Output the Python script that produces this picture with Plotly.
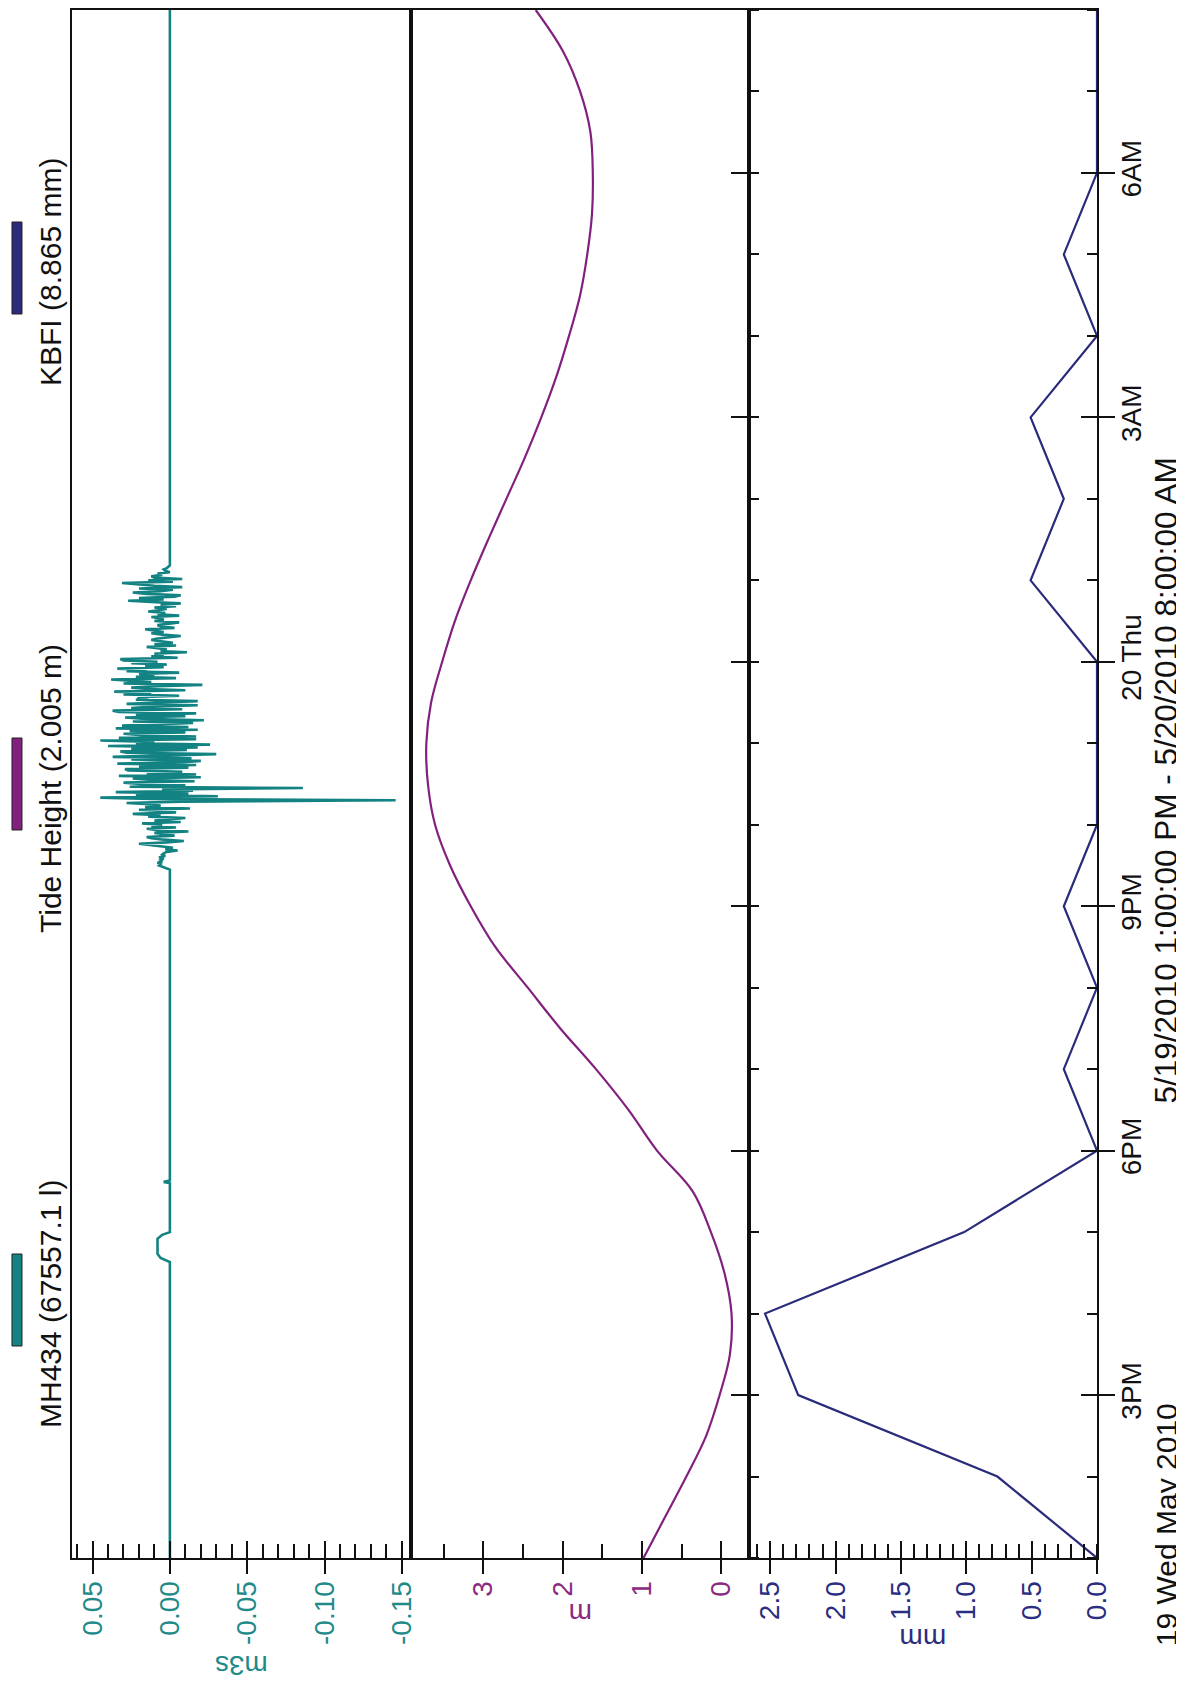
import plotly.graph_objects as go
import pandas as pd

# ---------------- data ----------------
# quiet parts of the MH434 flow record (m3/s)
quiet_times = [
    "2010-05-19 13:00", "2010-05-19 16:38", "2010-05-19 16:41", "2010-05-19 16:44", "2010-05-19 16:55",
    "2010-05-19 16:58", "2010-05-19 17:00", "2010-05-19 17:36", "2010-05-19 17:37", "2010-05-19 17:38",
]
quiet_values = [0.0, 0.0, 0.006, 0.008, 0.008, 0.005, 0.0, 0.0, 0.004, 0.0]

# active burst, one reading per minute from 21:27 to 01:11
burst_start = "2010-05-19 21:27"
burst_values = [
    0.0, 0.002, 0.005, 0.007, 0.006, 0.008, 0.005, 0.006, 0.004, 0.007, 0.003, 0.005, 0.004, 0.002, -0.005,
    0.003, -0.002, 0.006, 0.010, 0.020, 0.002, -0.009, 0.004, 0.012, 0.015, -0.003, 0.003, 0.010, -0.012, 0.008,
    0.015, -0.004, 0.012, 0.005, 0.018, -0.007, 0.010, -0.002, -0.010, 0.014, 0.006, 0.024, -0.004, 0.002, 0.020,
    -0.013, 0.016, 0.006, 0.010, 0.028, -0.008, -0.146, 0.012, 0.045, -0.031, 0.022, -0.012, 0.035, -0.015, 0.005,
    -0.086, 0.026, -0.010, 0.019, 0.030, -0.016, 0.012, 0.024, -0.020, 0.033, -0.017, 0.015, -0.008, 0.027, 0.029,
    -0.012, 0.020, -0.017, 0.034, -0.009, -0.020, 0.025, -0.014, 0.037, 0.010, -0.030, 0.028, 0.032, -0.011, 0.025,
    -0.018, 0.040, -0.026, 0.022, 0.010, 0.045, -0.017, 0.033, -0.017, 0.018, 0.030, -0.010, 0.026, -0.018, 0.035,
    -0.012, 0.031, 0.012, -0.015, 0.024, -0.022, 0.018, 0.029, -0.010, 0.022, -0.017, 0.033, 0.037, -0.008, 0.025,
    0.010, -0.018, 0.028, 0.005, -0.018, 0.022, 0.014, 0.021, -0.006, 0.030, 0.012, 0.036, -0.010, 0.014, 0.025,
    0.008, -0.021, 0.030, 0.012, 0.026, 0.038, -0.004, 0.022, 0.010, 0.020, -0.006, 0.028, 0.015, 0.034, 0.004,
    0.016, 0.002, 0.025, 0.008, 0.030, 0.032, -0.005, 0.012, 0.004, 0.010, -0.011, 0.006, 0.002, 0.008, 0.015,
    -0.004, 0.010, -0.002, 0.006, 0.012, 0.009, 0.002, -0.007, 0.005, 0.012, 0.004, 0.010, 0.016, -0.003, 0.006,
    0.008, 0.002, -0.006, 0.010, 0.004, 0.006, 0.012, -0.006, 0.008, 0.003, 0.014, 0.007, 0.002, 0.010, -0.004,
    0.006, -0.007, 0.012, 0.027, 0.004, 0.020, -0.003, -0.007, 0.015, 0.024, 0.006, -0.002, 0.020, -0.008, 0.010,
    0.022, 0.031, -0.002, 0.014, -0.008, 0.010, 0.012, 0.005, 0.008, 0.0, 0.003, 0.004, 0.002, 0.001, 0.0,
]
end_time = "2010-05-20 08:00"
end_value = 0.0

tide_times = pd.date_range("2010-05-19 13:00", "2010-05-20 08:00", freq="30min")
tide_values = [
    0.98, 0.71, 0.44, 0.19, 0.02, -0.11, -0.13, -0.04, 0.13, 0.36,
    0.81, 1.17, 1.58, 2.03, 2.44, 2.85, 3.16, 3.42, 3.61, 3.70,
    3.72, 3.66, 3.52, 3.36, 3.16, 2.94, 2.71, 2.48, 2.27, 2.08,
    1.92, 1.78, 1.69, 1.63, 1.62, 1.65, 1.78, 2.00, 2.34,
]

rain_times = pd.date_range("2010-05-19 13:00", "2010-05-20 08:00", freq="60min")
rain_values = [
    0.0, 0.762, 2.286, 2.54, 1.016, 0.0, 0.254, 0.0, 0.254, 0.0,
    0.0, 0.0, 0.508, 0.254, 0.508, 0.0, 0.254, 0.0, 0.0, 0.0,
]

flow_tickvals = [0.05, 0.0, -0.05, -0.10, -0.15]
flow_ticktext = ["0.05", "0.00", "-0.05", "-0.10", "-0.15"]
tide_tickvals = [3, 2, 1, 0]
tide_ticktext = ["3", "2", "1", "0"]
rain_tickvals = [2.5, 2.0, 1.5, 1.0, 0.5, 0.0]
rain_ticktext = ["2.5", "2.0", "1.5", "1.0", "0.5", "0.0"]
time_tickvals = ["2010-05-19 15:00", "2010-05-19 18:00", "2010-05-19 21:00",
                 "2010-05-20 00:00", "2010-05-20 03:00", "2010-05-20 06:00"]
time_ticktext = ["3PM", "6PM", "9PM", "20 Thu", "3AM", "6AM"]
time_range = ["2010-05-19 13:00", "2010-05-20 08:00"]

legend_labels = ["MH434 (67557.1 l)", "Tide Height (2.005 m)", "KBFI (8.865 mm)"]
axis_titles = ["m3s", "m", "mm"]
range_title = "5/19/2010 1:00:00 PM - 5/20/2010 8:00:00 AM"
date_label = "19 Wed May 2010"

# assemble flow series
burst_times = pd.date_range(burst_start, periods=len(burst_values), freq="1min")
flow_times = list(pd.to_datetime(quiet_times)) + list(burst_times) + [pd.Timestamp(end_time)]
flow_values = quiet_values + burst_values + [end_value]

# ---------------- style ----------------
TEAL = "#138282"
PURPLE = "#82207f"
NAVY = "#2a2b7a"
TEAL_T = "#1f8a88"
PURPLE_T = "#8a2a80"
NAVY_T = "#2a2d80"
FONT = "Liberation Sans, Arial, sans-serif"
FS = 28

# page has an 8px body margin: figure is placed at (8, 8)
OFF = 8
W, H = 1184 - OFF, 1690 - OFF
PL, PR, PT, PB = 72, 1096.7, 10, 1557.7          # plot area in page pixels
ML, MT = PL - OFF, PT - OFF
MR, MB = W - (PR - OFF), H - (PB - OFF)
PW, PH = PR - PL, PB - PT


def px_x(px):
    return (px - PL) / PW


def px_y(py):
    return (PB - py) / PH


d1 = px_x(410.7)
d2 = px_x(749.0)
domains = [[0, d1], [d1, d2], [d2, 1]]

fig = go.Figure()
fig.add_trace(go.Scatter(x=flow_values, y=flow_times, xaxis="x", yaxis="y", mode="lines",
                         line=dict(color=TEAL, width=2.6), showlegend=False))
fig.add_trace(go.Scatter(x=tide_values, y=tide_times, xaxis="x2", yaxis="y", mode="lines",
                         line=dict(color=PURPLE, width=2.2, shape="spline"), showlegend=False))
fig.add_trace(go.Scatter(x=rain_values, y=rain_times, xaxis="x3", yaxis="y", mode="lines",
                         line=dict(color=NAVY, width=2.2), showlegend=False))
# empty traces so overlay tick axes get drawn
for xa in ["x4", "x5", "x6"]:
    fig.add_trace(go.Scatter(x=[], y=[], xaxis=xa, yaxis="y", showlegend=False))
fig.add_trace(go.Scatter(x=[], y=[], xaxis="x3", yaxis="y2", showlegend=False))

axis_specs = [
    (flow_tickvals, flow_ticktext, [0.0633, -0.1558], 0.01, TEAL_T),
    (tide_tickvals, tide_ticktext, [3.916, -0.353], 0.5, PURPLE_T),
    (rain_tickvals, rain_ticktext, [2.661, 0.0], 0.1, NAVY_T),
]

layout_axes = {}
for i, (tv, tt, rng, mstep, col) in enumerate(axis_specs):
    name = "xaxis" if i == 0 else f"xaxis{i + 1}"
    layout_axes[name] = dict(
        domain=domains[i], range=rng, anchor="y", side="bottom",
        tickvals=tv, ticktext=tt, ticks="outside", ticklen=14, tickwidth=2, tickcolor="#111",
        tickangle=-90, tickfont=dict(family=FONT, size=FS, color=col), ticklabelstandoff=-4,
        minor=dict(ticks="inside", ticklen=14, tickwidth=2, tickcolor="#111", dtick=mstep, tick0=0,
                   showgrid=False),
        showline=True, linecolor="#111", linewidth=2, mirror=True,
        showgrid=False, zeroline=False, fixedrange=True,
    )
    layout_axes[f"xaxis{i + 4}"] = dict(
        overlaying="x" if i == 0 else f"x{i + 1}", range=rng, anchor="y", side="bottom",
        tickvals=tv, ticks="inside", ticklen=17, tickwidth=2, tickcolor="#111",
        showticklabels=False, showline=False, showgrid=False, zeroline=False,
    )

layout_axes["yaxis"] = dict(
    type="date", range=time_range, anchor="x3", side="right",
    tickvals=time_tickvals, ticktext=time_ticktext, ticks="outside", ticklen=16, tickwidth=2,
    tickcolor="#111", tickangle=-90, tickfont=dict(family=FONT, size=FS, color="#111"),
    ticklabelstandoff=-8,
    minor=dict(ticks="inside", ticklen=10, tickwidth=2, tickcolor="#111", dtick=3600000,
               tick0="2010-05-19 00:00", showgrid=False),
    showline=True, linecolor="#111", linewidth=2, mirror="all",
    showgrid=False, zeroline=False,
)
layout_axes["yaxis2"] = dict(
    type="date", range=time_range, anchor="x3", side="right", overlaying="y",
    tickvals=time_tickvals, ticks="inside", ticklen=16, tickwidth=2, tickcolor="#111",
    showticklabels=False, showline=False, showgrid=False, zeroline=False,
)

annotations = []
title_cols = [TEAL_T, PURPLE_T, NAVY_T]
title_py = [1665, 1613, 1638]
for i, t in enumerate(axis_titles):
    annotations.append(dict(
        text=t, xref="paper", yref="paper", x=(domains[i][0] + domains[i][1]) / 2, y=px_y(title_py[i]),
        xanchor="center", yanchor="middle", textangle=180, showarrow=False,
        font=dict(family=FONT, size=FS, color=title_cols[i]),
    ))
annotations.append(dict(
    text=range_title, xref="paper", yref="paper", x=px_x(1166), y=px_y(780),
    xanchor="center", yanchor="middle", textangle=-90, showarrow=False,
    font=dict(family=FONT, size=31.5, color="#111"),
))
annotations.append(dict(
    text=date_label, xref="paper", yref="paper", x=px_x(1166), y=px_y(1648),
    xanchor="center", yanchor="bottom", textangle=-90, showarrow=False,
    font=dict(family=FONT, size=30, color="#111"),
))

legend_pos = [1 / 6, 1 / 2, 5 / 6]
legend_cols = [TEAL, PURPLE, NAVY]
shapes = []
half = 46 / PH
for lbl, yp, col in zip(legend_labels, legend_pos, legend_cols):
    annotations.append(dict(
        text=lbl, xref="paper", yref="paper", x=px_x(50), y=yp - 4 / PH,
        xanchor="center", yanchor="middle", textangle=-90, showarrow=False,
        font=dict(family=FONT, size=30, color="#111"),
    ))
    shapes.append(dict(
        type="rect", xref="paper", yref="paper", x0=px_x(12), x1=px_x(22),
        y0=yp - half, y1=yp + half, fillcolor=col, line=dict(color="#222", width=1),
    ))

fig.update_layout(
    width=W, height=H, margin=dict(l=ML, r=MR, t=MT, b=MB, autoexpand=False),
    paper_bgcolor="white", plot_bgcolor="white",
    annotations=annotations, shapes=shapes, showlegend=False,
    **layout_axes,
)

fig.write_html("out.html")
